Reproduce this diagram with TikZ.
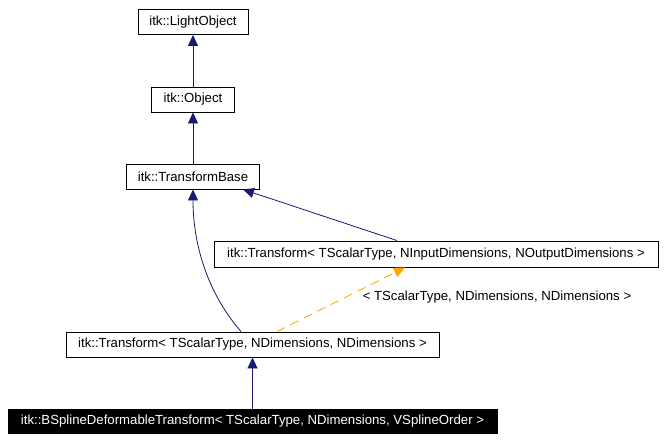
\documentclass[tikz,border=0pt]{standalone}
\usepackage{fontspec}
\setmainfont{Liberation Sans}
\usetikzlibrary{arrows.meta,positioning}
\definecolor{navyedge}{HTML}{191970}
\definecolor{tmplorange}{HTML}{FFA500}

\begin{document}
\begin{tikzpicture}[x=1pt, y=-1pt,
    cls/.style={draw, rectangle, line width=0.9pt, inner sep=0pt, minimum height=25pt, font=\fontsize{13.2}{15}\selectfont},
    inherit/.style={navyedge, line width=0.8pt, -{Triangle[width=10pt,length=11pt]}},
    instance/.style={tmplorange, line width=0.8pt, dash pattern=on 9pt off 6pt, -{Triangle[width=10pt,length=11pt]}}
]
    \useasboundingbox (0,0) rectangle (664,442);

    \node[cls, minimum width=110pt] (light) at (193,22) {itk::LightObject};
    \node[cls, minimum width=83pt] (object) at (193,99.5) {itk::Object};
    \node[cls, minimum width=133pt] (tbase) at (193,176.5) {itk::TransformBase};
    \node[cls, minimum width=444pt, minimum height=26pt] (tin) at (436,254) {itk::Transform< TScalarType, NInputDimensions, NOutputDimensions >};
    \node[cls, minimum width=373pt] (tnd) at (252.5,344.5) {itk::Transform< TScalarType, NDimensions, NDimensions >};
    \node[cls, minimum width=489pt, minimum height=24pt, fill=black, text=white] (bspline) at (252.5,421) {itk::BSplineDeformableTransform< TScalarType, NDimensions, VSplineOrder >};

    \node[font=\fontsize{13.2}{15}\selectfont] (targs) at (497,297) {< TScalarType, NDimensions, NDimensions >};

    \draw[inherit] (object) -- (light);
    \draw[inherit] (tbase) -- (object);
    \draw[inherit] ([xshift=-39pt]tin.north) -- ([xshift=50pt]tbase.south);
    \draw[inherit] ([xshift=-11.5pt]tnd.north) .. controls (205,290) and (193,240) .. (tbase.south);
    \draw[instance] ([xshift=24.5pt]tnd.north) -- ([xshift=-31pt]tin.south);
    \draw[inherit] (bspline) -- (tnd);
\end{tikzpicture}
\end{document}
